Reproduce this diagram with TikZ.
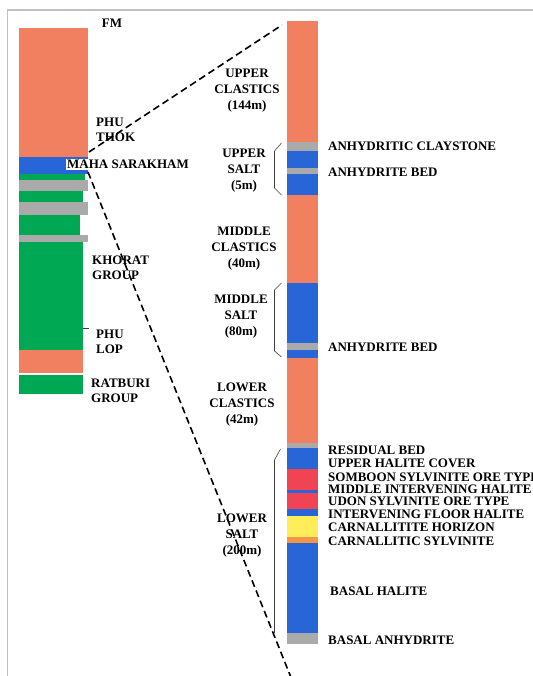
\documentclass[tikz,border=0pt]{standalone}
\usepackage{fontspec}
\setmainfont{Liberation Serif}
\usetikzlibrary{positioning}
\definecolor{clastic}{RGB}{240,128,96}
\definecolor{halite}{RGB}{40,102,216}
\definecolor{khorat}{RGB}{0,168,84}
\definecolor{anhyd}{RGB}{170,170,170}
\definecolor{sylvin}{RGB}{240,68,84}
\definecolor{carnal}{RGB}{255,238,90}
\definecolor{carsyl}{RGB}{245,150,70}
\definecolor{framegray}{RGB}{192,192,192}
\tikzset{
  lbl/.style={font=\bfseries\fontsize{13}{15}\selectfont, text=black, inner sep=0pt},
  rlbl/.style={lbl, anchor=west, align=left},
  clbl/.style={lbl, align=center, font=\bfseries\fontsize{13}{16}\selectfont},
  brace/.style={draw=black!75, line width=0.6pt},
  zoomline/.style={draw=black, line width=1.6pt, dash pattern=on 7pt off 4pt},
}
\begin{document}
\begin{tikzpicture}[x=1pt,y=-1pt]
  \useasboundingbox (0,0) rectangle (532,676);
  \draw[framegray, line width=1.6pt] (7.5,690) -- (7.5,10) -- (545,10);
  % formation column
  \fill[clastic] (19,28) rectangle (88,157);
  \fill[halite] (19,157) rectangle (88,174);
  \fill[khorat] (19,174) rectangle (85,180);
  \fill[anhyd] (19,180) rectangle (88,191);
  \fill[khorat] (19,191) rectangle (83,202);
  \fill[anhyd] (19,202) rectangle (88,215);
  \fill[khorat] (19,215) rectangle (80,235);
  \fill[anhyd] (19,235) rectangle (88,242);
  \fill[khorat] (19,242) rectangle (83,350);
  \fill[clastic] (19,350) rectangle (83,373);
  \fill[khorat] (19,375) rectangle (83,394);
  \draw[black!75, line width=0.6pt] (83,328) -- (89,328);
  % Maha Sarakham column
  \fill[clastic] (287,21) rectangle (318,142);
  \fill[anhyd] (287,142) rectangle (318,151);
  \fill[halite] (287,151) rectangle (318,168);
  \fill[anhyd] (287,168) rectangle (318,174);
  \fill[halite] (287,174) rectangle (318,195);
  \fill[clastic] (287,195) rectangle (318,283);
  \fill[halite] (287,283) rectangle (318,343);
  \fill[anhyd] (287,343) rectangle (318,350);
  \fill[halite] (287,350) rectangle (318,358);
  \fill[clastic] (287,358) rectangle (318,443);
  \fill[anhyd] (287,443) rectangle (318,448);
  \fill[halite] (287,448) rectangle (318,469);
  \fill[sylvin] (287,469) rectangle (318,490);
  \fill[halite] (287,490) rectangle (318,493);
  \fill[sylvin] (287,493) rectangle (318,509);
  \fill[halite] (287,509) rectangle (318,516);
  \fill[carnal] (287,516) rectangle (318,537);
  \fill[carsyl] (287,537) rectangle (318,543);
  \fill[halite] (287,543) rectangle (318,633);
  \fill[anhyd] (287,633) rectangle (318,644);
  % brackets
  \draw[brace] (281.5,143) -- (274.5,151) -- (274.5,188) -- (281.5,195);
  \draw[brace] (281.5,283) -- (274.5,290) -- (274.5,351) -- (281.5,357);
  \draw[brace] (280.5,449) -- (274.5,460) -- (274.5,633);
  % zoom lines
  \coordinate (mstop) at (89,152);
  \coordinate (msbot) at (88,172);
  \coordinate (coltop) at (282,25);
  \coordinate (colbot) at (292,680);
  \draw[zoomline] (mstop) -- (coltop);
  \draw[zoomline] (msbot) -- (colbot);
  % formation labels
  \node[lbl] (fm) at (112,23) {FM};
  \node[rlbl] (phuthok) at (96,129.5) {PHU\\THOK};
  \node[rlbl, fill=white, inner sep=1pt] (maha) at (66,164.5) {MAHA SARAKHAM};
  \node[rlbl] (khorat) at (92,267.5) {KHORAT\\GROUP};
  \node[rlbl] (phulop) at (96,341.5) {PHU\\LOP};
  \node[rlbl] (ratburi) at (91,390.5) {RATBURI\\GROUP};
  % member labels
  \node[clbl] (uclastics) at (247,91) {UPPER\\CLASTICS\\(144m)};
  \node[clbl] (usalt) at (244,171) {UPPER\\SALT\\(5m)};
  \node[clbl] (mclastics) at (244,249) {MIDDLE\\CLASTICS\\(40m)};
  \node[clbl] (msalt) at (241,317) {MIDDLE\\SALT\\(80m)};
  \node[clbl] (lclastics) at (242,405) {LOWER\\CLASTICS\\(42m)};
  \node[clbl] (lsalt) at (242,536) {LOWER\\SALT\\(200m)};
  % bed labels
  \node[rlbl] (claystone) at (328,146) {ANHYDRITIC CLAYSTONE};
  \node[rlbl] (ubed) at (328,172) {ANHYDRITE BED};
  \node[rlbl] (mbed) at (328,347) {ANHYDRITE BED};
  \node[rlbl] (residual) at (328,450) {RESIDUAL BED};
  \node[rlbl] (cover) at (328,463) {UPPER HALITE COVER};
  \node[rlbl] (somboon) at (328,477) {SOMBOON SYLVINITE ORE TYPE};
  \node[rlbl] (midhal) at (328,489) {MIDDLE INTERVENING HALITE};
  \node[rlbl] (udon) at (328,501) {UDON SYLVINITE ORE TYPE};
  \node[rlbl] (floor) at (328,514) {INTERVENING FLOOR HALITE};
  \node[rlbl] (horizon) at (328,527) {CARNALLITITE HORIZON};
  \node[rlbl] (carsylv) at (328,541) {CARNALLITIC SYLVINITE};
  \node[rlbl] (basal) at (330,591) {BASAL HALITE};
  \node[rlbl] (basanh) at (328,640) {BASAL ANHYDRITE};
\end{tikzpicture}
\end{document}
